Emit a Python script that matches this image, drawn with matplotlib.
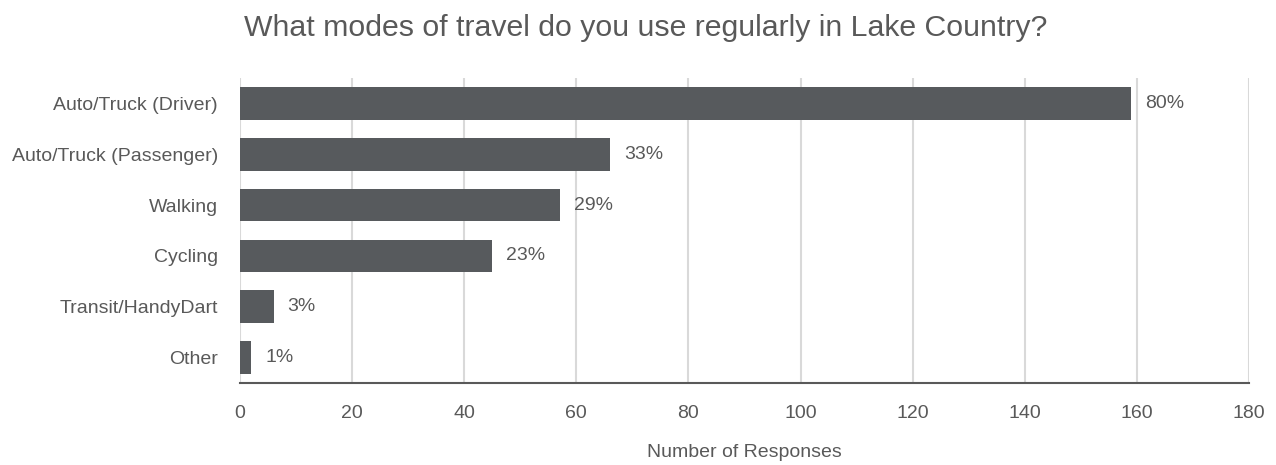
import matplotlib
matplotlib.use("Agg")
import matplotlib.pyplot as plt

modes = ["Auto/Truck (Driver)", "Auto/Truck (Passenger)", "Walking",
         "Cycling", "Transit/HandyDart", "Other"]
responses = [159, 66, 57, 45, 6, 2]
pct_labels = ["80%", "33%", "29%", "23%", "3%", "1%"]
x_ticks = [0, 20, 40, 60, 80, 100, 120, 140, 160, 180]

plt.rcParams['font.family'] = ['Liberation Sans', 'DejaVu Sans']
txt = "#595959"
bar_col = "#575a5d"

fig = plt.figure(figsize=(12.76, 4.65), dpi=100)
ax = fig.add_axes([0.1881, 0.1763, 0.7907, 0.6560])

y = list(range(len(modes)))
ax.barh(y, responses, height=0.64, color=bar_col, zorder=3)
for yi, v, lab in zip(y, responses, pct_labels):
    ax.text(v + 2.5, yi, lab, va="center", ha="left", fontsize=14, color=txt)

ax.set_yticks(y)
ax.set_yticklabels(modes)
ax.set_ylim(len(modes) - 0.5, -0.5)
ax.set_xlim(0, 180)
ax.set_xticks(x_ticks)
ax.tick_params(axis="both", length=0, labelsize=14, labelcolor=txt)
ax.tick_params(axis="x", pad=16)
ax.tick_params(axis="y", pad=16)
ax.grid(axis="x", color="#d9d9d9", linewidth=1.5, zorder=0)
for s in ["top", "right", "left"]:
    ax.spines[s].set_visible(False)
ax.spines["bottom"].set_color("#595959")
ax.spines["bottom"].set_linewidth(1.5)
ax.set_xlabel("Number of Responses", fontsize=14, color=txt, labelpad=16)

fig.text(0.506, 0.94, "What modes of travel do you use regularly in Lake Country?",
         ha="center", va="center", fontsize=21.8, color=txt)

fig.savefig("out.png", dpi=100)
